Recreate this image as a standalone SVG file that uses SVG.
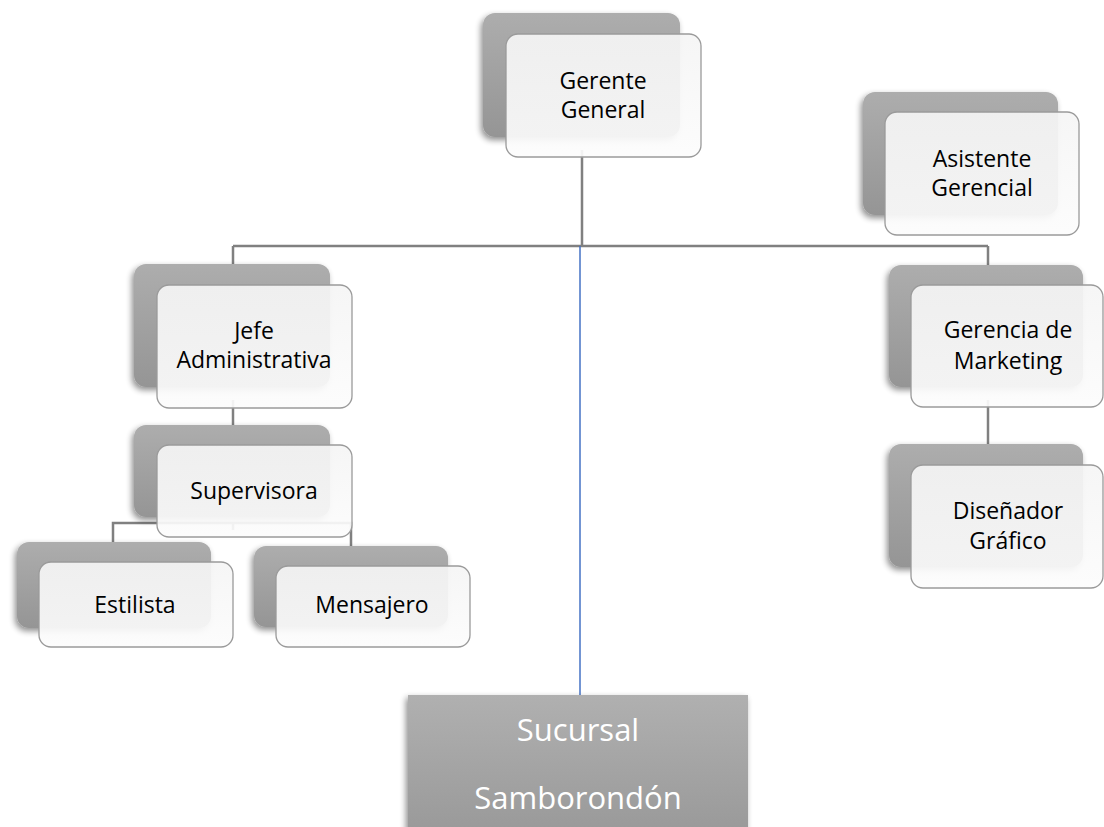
<svg xmlns="http://www.w3.org/2000/svg" width="1104" height="827" viewBox="0 0 1104 827">
<defs>
<linearGradient id="gBack" x1="0" y1="0" x2="0" y2="1">
<stop offset="0" stop-color="#adadad"/>
<stop offset="1" stop-color="#959595"/>
</linearGradient>
<linearGradient id="gFront" x1="0" y1="0" x2="0" y2="1">
<stop offset="0" stop-color="#f5f5f5"/>
<stop offset="1" stop-color="#fcfcfc"/>
</linearGradient>
<linearGradient id="gSuc" x1="0" y1="0" x2="0" y2="1">
<stop offset="0" stop-color="#b0b0b0"/>
<stop offset="1" stop-color="#999999"/>
</linearGradient>
<filter id="sh" x="-20%" y="-20%" width="140%" height="140%">
<feGaussianBlur in="SourceAlpha" stdDeviation="3"/>
<feOffset dx="-2" dy="3" result="b"/>
<feComponentTransfer><feFuncA type="linear" slope="0.45"/></feComponentTransfer>
<feMerge><feMergeNode/><feMergeNode in="SourceGraphic"/></feMerge>
</filter>
</defs>
<style>
.back{fill:url(#gBack);filter:url(#sh)}
.front{fill:url(#gFront);fill-opacity:0.92;stroke:#9a9a9a;stroke-width:1.3}
.t{font-family:"Open Sans","Noto Sans",sans-serif;font-size:23px;fill:#000;text-anchor:middle}
.ts{font-family:"Open Sans","Noto Sans",sans-serif;font-size:31px;fill:#fff;text-anchor:middle}
.c{fill:none;stroke:#808080;stroke-width:2.5}
</style>
<rect width="1104" height="827" fill="#fff"/>
<g id="connectors">
<path class="c" d="M582 150 V246 M233 246 H988 M233 246 V268 M988 246 V268"/>
<path class="c" d="M233 400 V428"/>
<path class="c" d="M113 545 V523 H351 V549 M233 530 V523"/>
<path class="c" d="M988 400 V446"/>
<line x1="580" y1="246" x2="580" y2="696" stroke="#4472c4" stroke-width="1.5"/>
</g>
<g id="gerente-general">
<rect class="back" x="483" y="13" width="197" height="124" rx="12"/>
<rect class="front" x="506" y="34" width="195" height="123" rx="12"/>
<text class="t" x="603" y="89">Gerente</text>
<text class="t" x="603" y="118">General</text>
</g>
<g id="asistente-gerencial">
<rect class="back" x="863" y="92" width="195" height="123" rx="12"/>
<rect class="front" x="885" y="112" width="194" height="123" rx="12"/>
<text class="t" x="982" y="167">Asistente</text>
<text class="t" x="982" y="196">Gerencial</text>
</g>
<g id="jefe-administrativa">
<rect class="back" x="134" y="264" width="196" height="123" rx="12"/>
<rect class="front" x="157" y="285" width="195" height="123" rx="12"/>
<text class="t" x="254" y="339">Jefe</text>
<text class="t" x="254" y="368">Administrativa</text>
</g>
<g id="gerencia-marketing">
<rect class="back" x="889" y="265" width="194" height="122" rx="12"/>
<rect class="front" x="911" y="285" width="192" height="122" rx="12"/>
<text class="t" x="1008" y="338">Gerencia de</text>
<text class="t" x="1008" y="369">Marketing</text>
</g>
<g id="supervisora">
<rect class="back" x="134" y="425" width="196" height="92" rx="12"/>
<rect class="front" x="157" y="445" width="195" height="92" rx="12"/>
<text class="t" x="254" y="499">Supervisora</text>
</g>
<g id="disenador-grafico">
<rect class="back" x="889" y="444" width="194" height="123" rx="12"/>
<rect class="front" x="911" y="465" width="192" height="123" rx="12"/>
<text class="t" x="1008" y="519">Diseñador</text>
<text class="t" x="1008" y="549">Gráfico</text>
</g>
<g id="estilista">
<rect class="back" x="17" y="542" width="194" height="86" rx="12"/>
<rect class="front" x="39" y="562" width="194" height="85" rx="12"/>
<text class="t" x="135" y="613">Estilista</text>
</g>
<g id="mensajero">
<rect class="back" x="254" y="546" width="194" height="81" rx="12"/>
<rect class="front" x="276" y="566" width="194" height="81" rx="12"/>
<text class="t" x="372" y="613">Mensajero</text>
</g>
<g id="sucursal-samborondon">
<rect x="408" y="695" width="340" height="140" fill="url(#gSuc)" filter="url(#sh)"/>
<text class="ts" x="578" y="741">Sucursal</text>
<text class="ts" x="578" y="809">Samborondón</text>
</g>
</svg>
